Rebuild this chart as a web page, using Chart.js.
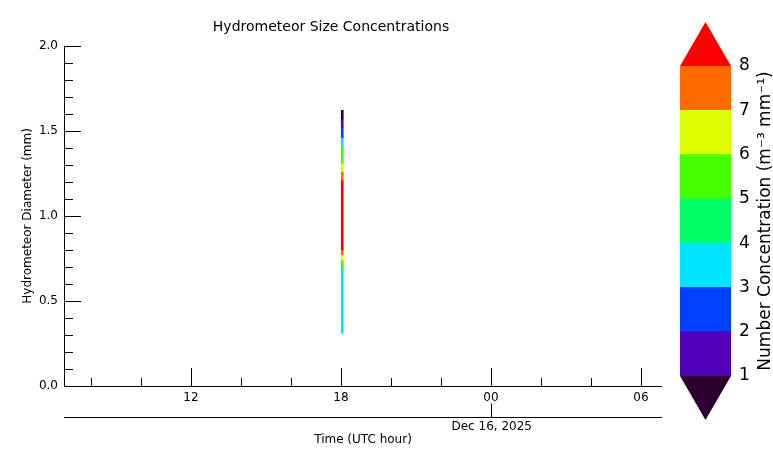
<!DOCTYPE html>
<html>
<head>
<meta charset="utf-8">
<script src="https://cdn.jsdelivr.net/npm/chart.js@4.4.0/dist/chart.umd.min.js"></script>
<style>
  body { margin: 0; background: #fff; }
  #wrap { position: relative; width: 773px; height: 467px; }
  #main { position: absolute; left: 0; top: 0; }
  #cbar { position: absolute; left: 660px; top: 0; }
</style>
</head>
<body>
<div id="wrap">
  <canvas id="main" width="773" height="467"></canvas>
  <canvas id="cbar" width="113" height="467"></canvas>
</div>
<script>
// Dados
const tempoObs = 18.05; // hora UTC da observação
const diamInf = [0.31, 0.69, 0.74, 0.77, 0.80, 1.21, 1.26, 1.31, 1.41, 1.46, 1.52, 1.57];
const diamSup = [0.69, 0.74, 0.77, 0.80, 1.21, 1.26, 1.31, 1.41, 1.46, 1.52, 1.57, 1.62];
const concentracao = [3.5, 5.5, 6.5, 7.5, 8.5, 7.5, 6.5, 5.5, 3.5, 2.5, 1.5, 0.5];

const xTicks = [12, 18, 24, 30];
const xLabels = ["12", "18", "00", "06"];
const niveis = [1, 2, 3, 4, 5, 6, 7, 8];
const coresNiveis = ["#5200b8", "#0040ff", "#00e5ff", "#00ff66", "#44ff00", "#ddff00", "#ff6a00"];
const corAbaixo = "#2b0030";
const corAcima = "#ff0000";

function corPara(v) {
  if (v < niveis[0]) return corAbaixo;
  if (v >= niveis[niveis.length - 1]) return corAcima;
  return coresNiveis[Math.floor(v) - 1];
}

const fonte = "'DejaVu Sans', sans-serif";
Chart.defaults.font.family = fonte;
Chart.defaults.color = "#000";

// ticks para dentro, data secundária
const eixosPlugin = {
  id: "eixos",
  afterDraw(chart) {
    const c = chart.ctx, x = chart.scales.x, y = chart.scales.y, a = chart.chartArea;
    c.save();
    c.strokeStyle = "#000";
    c.lineWidth = 1;
    c.beginPath();
    c.moveTo(a.left + 0.5, a.top); c.lineTo(a.left + 0.5, a.bottom);
    c.moveTo(a.left, a.bottom + 0.5); c.lineTo(a.right, a.bottom + 0.5);
    for (let i = 0; i <= 20; i++) {
      const v = i / 10, py = Math.round(y.getPixelForValue(v)) + 0.5;
      const len = (i % 5 === 0) ? 17 : 9;
      c.moveTo(a.left, py); c.lineTo(a.left + len, py);
    }
    for (let h = 8; h <= 30; h += 2) {
      const px = Math.round(x.getPixelForValue(h)) + 0.5;
      const len = (h % 6 === 0) ? 18 : 8;
      c.moveTo(px, a.bottom); c.lineTo(px, a.bottom - len);
    }
    // eixo da data
    const yd = 417.5, p0 = Math.round(x.getPixelForValue(24)) + 0.5;
    c.moveTo(a.left, yd); c.lineTo(a.right, yd);
    c.moveTo(p0, yd); c.lineTo(p0, yd - 14);
    c.stroke();
    c.fillStyle = "#000";
    c.font = "12px " + fonte;
    c.textAlign = "left";
    c.textBaseline = "top";
    c.fillText("Dec 16, 2025", p0 - 40, 421);
    c.restore();
  }
};

new Chart(document.getElementById("main"), {
  type: "bar",
  data: {
    datasets: [{
      data: diamInf.map((lo, i) => ({ x: tempoObs, y: [lo, diamSup[i]] })),
      backgroundColor: concentracao.map(corPara),
      barThickness: 2,
      grouped: false
    }]
  },
  options: {
    responsive: false,
    animation: false,
    layout: { padding: { top: 0, right: 111, left: 0, bottom: 0 } },
    plugins: {
      legend: { display: false },
      tooltip: { enabled: false },
      title: {
        display: true,
        text: "Hydrometeor Size Concentrations",
        font: { size: 14, weight: "normal" },
        padding: { top: 19, bottom: 10 }
      }
    },
    scales: {
      x: {
        type: "linear",
        offset: false,
        min: 6.92, max: 30.84,
        afterBuildTicks: s => { s.ticks = xTicks.map(v => ({ value: v })); },
        afterFit: s => { s.height = 81; },
        grid: { display: false, drawTicks: false, offset: false },
        border: { display: false },
        ticks: {
          autoSkip: false, maxRotation: 0, padding: 5,
          font: { size: 12 },
          callback: v => xLabels[xTicks.indexOf(v)]
        },
        title: { display: true, text: "Time (UTC hour)", font: { size: 12 }, padding: { top: 0, bottom: 20 } }
      },
      y: {
        min: 0, max: 2,
        afterBuildTicks: s => { s.ticks = [0, 0.5, 1, 1.5, 2].map(v => ({ value: v })); },
        afterFit: s => { s.width = 64; },
        grid: { display: false, drawTicks: false },
        border: { display: false },
        ticks: { padding: 6, font: { size: 12 }, callback: v => v.toFixed(1) },
        title: { display: true, text: "Hydrometeor Diameter (mm)", font: { size: 12 }, padding: { top: 21, bottom: 4 } }
      }
    }
  },
  plugins: [eixosPlugin]
});

// Barra de cores
const extensoesPlugin = {
  id: "extensoes",
  afterDraw(chart) {
    const c = chart.ctx, a = chart.chartArea;
    const mid = (a.left + a.right) / 2;
    c.save();
    c.fillStyle = corAcima;
    c.beginPath(); c.moveTo(a.left, a.top); c.lineTo(a.right, a.top); c.lineTo(mid, a.top - 44); c.closePath(); c.fill();
    c.fillStyle = corAbaixo;
    c.beginPath(); c.moveTo(a.left, a.bottom); c.lineTo(a.right, a.bottom); c.lineTo(mid, a.bottom + 44); c.closePath(); c.fill();
    // título vertical, lido de baixo para cima
    c.fillStyle = "#000";
    c.font = "17px " + fonte;
    c.translate(106, (a.top + a.bottom) / 2);
    c.rotate(-Math.PI / 2);
    c.textAlign = "center";
    c.textBaseline = "middle";
    c.fillText("Number Concentration (m\u207B\u00B3 mm\u207B\u00B9)", 0, 0);
    c.restore();
  }
};

new Chart(document.getElementById("cbar"), {
  type: "bar",
  data: {
    labels: ["c"],
    datasets: coresNiveis.map((cor, i) => ({
      data: [[niveis[i], niveis[i + 1]]],
      backgroundColor: cor,
      barPercentage: 1,
      categoryPercentage: 1,
      grouped: false
    }))
  },
  options: {
    responsive: false,
    animation: false,
    layout: { padding: { top: 66, bottom: 91, left: 20, right: 0 } },
    plugins: { legend: { display: false }, tooltip: { enabled: false } },
    scales: {
      x: { display: false },
      y: {
        position: "right",
        min: 1, max: 8,
        afterFit: s => { s.width = 42; },
        grid: { display: false, drawTicks: false },
        border: { display: false },
        ticks: { stepSize: 1, padding: 8, font: { size: 17 } }
      }
    }
  },
  plugins: [extensoesPlugin]
});
</script>
</body>
</html>
